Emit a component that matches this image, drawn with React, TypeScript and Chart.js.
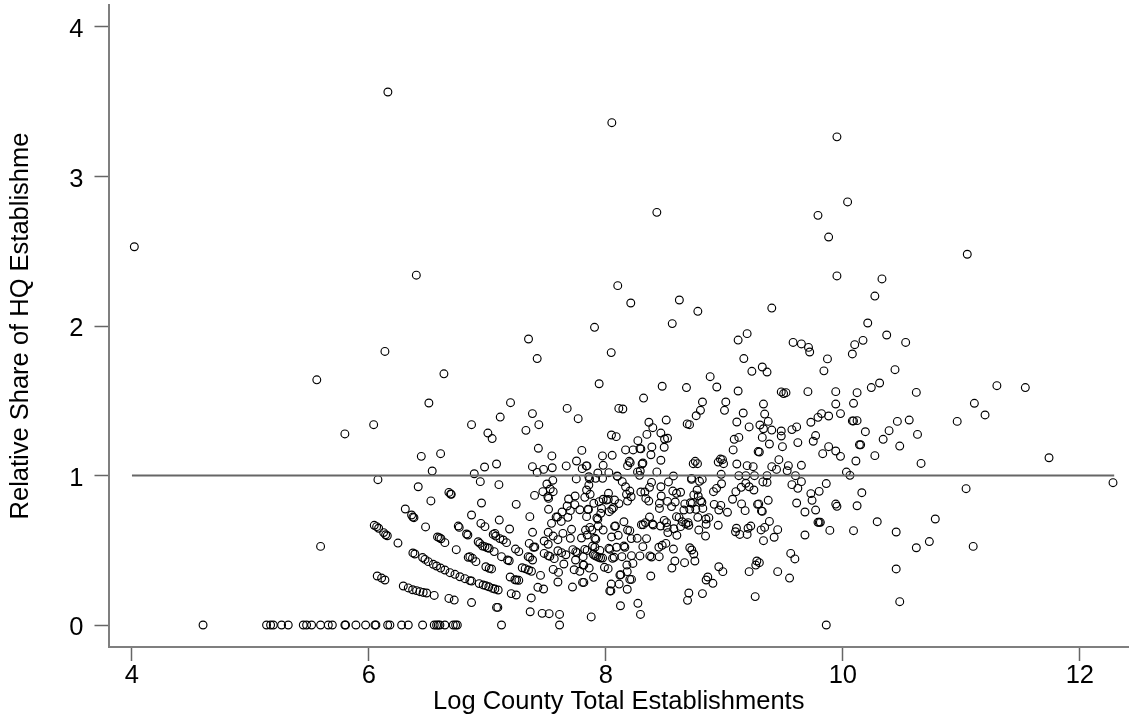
import React, { useEffect, useRef } from "react";
import { Chart, registerables } from "chart.js";

Chart.register(...registerables);

const xTicks = [4, 6, 8, 10, 12];
const yTicks = [0, 1, 2, 3, 4];
const xTitle = "Log County Total Establishments";
const yTitle = "Relative Share of HQ Establishme";
const referenceLine = [[4.0, 1], [12.29, 1]];

const zeroShareLogTotals = [4.6, 5.136, 5.17, 5.193, 5.263, 5.319, 5.446, 5.474, 5.516, 5.592, 5.657, 5.691, 5.797, 5.803, 5.89, 5.972, 6.051, 6.059, 6.158, 6.177, 6.276, 6.332, 6.453, 6.551, 6.571, 6.585, 6.599, 6.641, 6.712, 6.732, 6.746, 7.119, 7.609, 9.86];

const outlierCounties = [
  [4.02, 2.53], [6.16, 3.565], [8.05, 3.36], [9.95, 3.265], [8.43, 2.76], [9.79, 2.74], [10.04, 2.83], [9.88, 2.595], [6.4, 2.34], [9.95, 2.335], [8.1, 2.27], [11.05, 2.48], [10.33, 2.315], [10.27, 2.2], [5.56, 1.64], [5.797, 1.278], [6.04, 1.34], [6.506, 1.485], [6.633, 1.68], [6.135, 1.83],
];

const leftCounties = [
  [6.442, 1.128], [6.605, 1.146], [6.534, 1.03], [6.076, 0.972], [6.416, 0.925], [6.675, 0.887], [6.689, 0.876], [6.695, 0.874], [6.523, 0.83], [6.307, 0.776], [6.36, 0.736], [6.371, 0.722], [6.38, 0.718], [6.478, 0.656], [6.754, 0.662], [6.762, 0.653], [6.824, 0.609], [6.835, 0.602], [6.045, 0.667], [6.065, 0.658], [6.082, 0.647], [6.124, 0.618], [6.141, 0.604], [6.155, 0.597], [6.245, 0.548], [6.579, 0.589], [6.594, 0.584], [6.608, 0.577], [6.641, 0.551], [6.737, 0.504], [6.371, 0.482], [6.388, 0.475], [6.453, 0.451], [6.473, 0.439], [6.501, 0.424], [6.543, 0.406], [6.571, 0.395], [6.605, 0.381], [6.641, 0.368], [6.684, 0.35], [6.726, 0.339], [6.768, 0.323], [6.81, 0.31], [6.852, 0.297], [6.838, 0.453], [6.07, 0.328], [6.107, 0.314], [6.135, 0.301], [6.29, 0.261], [6.332, 0.248], [6.369, 0.236], [6.402, 0.23], [6.43, 0.223], [6.458, 0.218], [6.487, 0.214], [6.551, 0.198], [6.675, 0.178], [6.72, 0.167], [5.592, 0.526],
];

const upperCounties = [
  [8.21, 2.154], [8.62, 2.174], [8.776, 2.098], [8.56, 2.016], [7.904, 1.991], [7.347, 1.913], [9.116, 1.906], [9.192, 1.949], [7.42, 1.782], [8.045, 1.822], [9.164, 1.782], [9.232, 1.697], [8.88, 1.661], [8.936, 1.592], [9.116, 1.565], [8.475, 1.597], [8.68, 1.588], [7.943, 1.614], [8.318, 1.518], [7.195, 1.487], [7.38, 1.414], [7.108, 1.391], [6.866, 1.34], [7.004, 1.284], [7.04, 1.247], [7.325, 1.302], [7.434, 1.34], [7.673, 1.449], [7.766, 1.38], [8.109, 1.449], [8.143, 1.445], [8.815, 1.492], [9.012, 1.492], [8.798, 1.436], [9.001, 1.436], [8.762, 1.4], [8.686, 1.345], [8.706, 1.34], [9.159, 1.418], [9.105, 1.358], [9.209, 1.325], [9.122, 1.255], [9.083, 1.242], [8.509, 1.371], [8.363, 1.356], [8.396, 1.32], [8.346, 1.275], [8.464, 1.284], [8.495, 1.244], [8.52, 1.249], [8.047, 1.271], [8.087, 1.26], [8.27, 1.233], [8.492, 1.189], [8.388, 1.191], [8.166, 1.171], [8.23, 1.171], [8.287, 1.18], [8.295, 1.178], [8.38, 1.139], [7.43, 1.182], [7.544, 1.131], [7.797, 1.168], [7.971, 1.131], [8.053, 1.135], [9.074, 1.171], [9.285, 1.16], [8.464, 1.102], [8.197, 1.095], [8.205, 1.086], [8.183, 1.066], [8.312, 1.084], [8.306, 1.077], [7.977, 1.068], [7.752, 1.097], [7.834, 1.064], [7.84, 1.064], [7.8, 1.046], [7.665, 1.064], [7.547, 1.052], [7.474, 1.041], [7.38, 1.059], [7.42, 1.021], [6.976, 1.057], [7.077, 1.077], [6.889, 1.012], [8.267, 1.024], [8.29, 1.03], [8.284, 1.001], [8.43, 1.024], [7.932, 1.017], [8.025, 1.019], [8.095, 0.997], [8.737, 1.079], [8.754, 1.095], [8.773, 1.079], [8.948, 1.09], [8.967, 1.11], [8.984, 1.106], [8.993, 1.079], [9.105, 1.077], [9.192, 1.066], [9.243, 1.059], [8.973, 1.008], [9.122, 0.999], [9.181, 0.999], [9.254, 0.999], [8.57, 0.997], [8.723, 0.981],
];

const centerCounties = [
  [6.94, 0.959], [7.097, 0.939], [6.95, 0.816], [7.243, 0.807], [7.398, 0.867], [7.468, 0.892], [7.502, 0.943], [7.552, 0.968], [7.53, 0.91], [7.555, 0.892], [7.51, 0.858], [7.516, 0.847], [7.516, 0.774], [7.75, 0.977], [7.856, 0.992], [7.862, 0.977], [7.913, 0.981], [7.972, 0.981], [7.856, 0.936], [7.837, 0.903], [7.867, 0.874], [7.822, 0.854], [7.74, 0.863], [7.685, 0.843], [7.673, 0.796], [7.738, 0.805], [7.78, 0.771], [7.7, 0.765], [7.63, 0.756], [7.679, 0.72], [7.58, 0.722], [7.592, 0.722], [7.541, 0.68], [7.623, 0.693], [7.848, 0.774], [7.853, 0.772], [7.837, 0.725], [7.924, 0.716], [7.932, 0.707], [7.898, 0.814], [7.943, 0.825], [7.977, 0.841], [8.022, 0.881], [8.005, 0.836], [8.02, 0.84], [7.963, 0.78], [7.957, 0.747], [8.028, 0.758], [8.05, 0.774], [8.064, 0.785], [8.073, 0.836], [8.11, 0.812], [8.098, 0.994], [8.138, 0.959], [8.166, 0.925], [8.202, 0.896], [8.174, 0.874], [8.213, 0.858], [8.183, 0.829], [8.295, 0.89], [8.329, 0.89], [8.337, 0.847], [8.362, 0.829], [8.368, 0.921], [8.385, 0.954], [8.464, 0.925], [8.528, 0.957], [8.467, 0.863], [8.452, 0.814], [8.452, 0.78], [8.52, 0.827], [8.554, 0.792], [8.565, 0.896], [8.596, 0.881], [8.63, 0.888], [8.585, 0.823], [8.723, 0.974], [8.79, 0.961], [8.813, 0.974], [8.77, 0.903], [8.742, 0.87], [8.779, 0.863], [8.799, 0.832], [8.81, 0.821], [8.908, 0.892], [8.934, 0.914], [8.976, 0.945], [8.666, 0.81], [8.714, 0.818], [8.728, 0.814], [8.658, 0.769], [8.708, 0.774], [8.759, 0.774], [8.818, 0.78], [8.596, 0.725], [8.618, 0.72], [8.776, 0.72], [8.914, 0.807], [8.97, 0.8], [8.953, 0.769], [9.026, 0.754], [8.869, 0.718], [8.844, 0.709], [8.948, 0.667], [8.846, 0.674], [8.784, 0.635], [8.841, 0.595], [9.069, 0.841], [9.097, 0.892], [9.142, 0.921], [9.181, 0.948], [9.209, 0.925], [9.249, 0.903], [9.145, 0.81], [9.175, 0.765], [9.28, 0.807], [9.313, 0.763], [9.102, 0.647], [9.094, 0.624], [9.13, 0.606], [9.192, 0.606], [9.2, 0.647], [9.223, 0.662], [9.274, 0.428], [9.265, 0.401], [9.209, 0.357], [9.26, 0.19], [8.953, 0.39], [8.987, 0.357], [8.86, 0.321], [8.846, 0.301], [8.903, 0.279], [8.815, 0.21], [8.7, 0.214], [8.689, 0.165], [8.751, 0.428], [8.742, 0.475], [8.725, 0.502], [8.708, 0.517], [8.664, 0.417], [8.582, 0.428], [8.557, 0.381], [8.57, 0.508], [8.506, 0.546], [8.475, 0.533], [8.447, 0.52], [8.45, 0.457], [8.371, 0.462], [8.385, 0.455], [8.379, 0.328], [8.287, 0.462], [8.312, 0.524], [8.343, 0.578], [8.264, 0.58], [8.214, 0.578], [8.202, 0.631], [8.183, 0.635], [8.104, 0.6], [8.048, 0.589], [7.977, 0.635], [7.935, 0.662], [8.073, 0.66], [8.081, 0.662], [8.152, 0.691], [8.3, 0.671], [8.315, 0.671], [8.334, 0.685], [8.368, 0.722], [8.393, 0.676], [8.4, 0.669], [8.461, 0.662], [8.492, 0.7], [8.512, 0.685], [8.517, 0.653], [8.523, 0.618], [8.573, 0.644], [8.599, 0.6], [8.63, 0.658], [8.644, 0.691], [8.675, 0.676], [8.694, 0.685], [8.7, 0.667], [7.865, 0.653], [7.828, 0.635], [7.882, 0.635], [7.842, 0.602], [7.915, 0.573], [7.907, 0.58], [7.794, 0.582], [7.71, 0.64], [7.7, 0.58], [7.637, 0.613], [7.595, 0.571], [7.555, 0.595], [7.513, 0.62], [7.479, 0.562], [7.513, 0.54], [7.381, 0.62], [7.353, 0.546], [7.389, 0.52], [7.4, 0.522], [7.479, 0.479], [7.513, 0.464], [7.527, 0.459], [7.564, 0.444], [7.595, 0.497], [7.626, 0.484], [7.662, 0.47], [7.721, 0.504], [7.746, 0.491], [7.758, 0.484], [7.822, 0.506], [7.842, 0.499], [7.887, 0.528], [7.907, 0.52], [7.949, 0.499], [8.025, 0.513], [8.033, 0.506], [8.09, 0.52], [8.152, 0.528], [8.16, 0.52], [8.056, 0.446], [8.07, 0.453], [8.135, 0.457], [8.216, 0.464], [7.893, 0.473], [7.907, 0.464], [7.921, 0.459], [7.938, 0.453], [7.955, 0.448], [7.972, 0.448], [7.808, 0.457], [7.744, 0.435], [7.645, 0.408], [7.555, 0.372], [7.6, 0.352], [7.732, 0.37], [7.78, 0.359], [7.808, 0.401], [7.814, 0.401], [7.859, 0.381], [7.988, 0.386], [8.019, 0.377], [8.177, 0.401], [8.228, 0.412], [8.18, 0.357], [8.118, 0.334], [8.126, 0.337], [8.202, 0.305], [8.216, 0.305], [8.045, 0.274], [8.112, 0.274], [8.18, 0.239], [8.033, 0.228], [8.042, 0.228], [7.896, 0.319], [7.803, 0.285], [7.814, 0.285], [7.718, 0.254], [7.595, 0.288], [7.426, 0.252], [7.474, 0.241], [7.37, 0.181], [7.361, 0.089], [7.462, 0.078], [7.521, 0.076], [7.609, 0.071], [7.876, 0.054], [8.123, 0.129], [8.27, 0.145], [8.292, 0.071], [7.077, 0.118], [7.088, 0.118], [6.866, 0.15], [7.201, 0.21], [7.243, 0.201], [7.448, 0.332], [7.192, 0.321], [7.232, 0.303], [7.246, 0.301], [7.265, 0.299], [7.294, 0.383], [7.319, 0.377], [7.347, 0.368], [7.372, 0.359], [7.344, 0.457], [7.358, 0.453], [7.381, 0.435], [7.119, 0.457], [7.17, 0.435], [7.184, 0.43], [7.237, 0.508], [7.265, 0.491], [7.057, 0.491], [7.161, 0.551], [7.133, 0.569], [7.105, 0.578], [7.071, 0.595], [7.049, 0.606], [7.063, 0.613], [7.187, 0.642], [7.1, 0.702], [7.358, 0.725], [6.945, 0.68], [6.979, 0.658], [6.866, 0.736], [6.922, 0.557], [6.936, 0.546], [6.959, 0.528], [6.979, 0.524], [7.0, 0.517], [7.015, 0.513], [6.874, 0.446], [6.903, 0.424], [6.852, 0.457], [6.987, 0.39], [7.015, 0.379], [7.035, 0.375], [6.866, 0.294], [6.931, 0.277], [6.964, 0.268], [6.987, 0.263], [7.012, 0.256], [7.043, 0.245], [7.063, 0.241], [7.091, 0.234],
];

const rightCounties = [
  [9.4, 2.12], [10.21, 2.02], [9.58, 1.89], [9.65, 1.88], [9.71, 1.857], [9.72, 1.826], [9.87, 1.78], [10.17, 1.904], [10.1, 1.875], [10.08, 1.813], [10.37, 1.94], [10.53, 1.89], [9.32, 1.726], [9.36, 1.692], [9.84, 1.7], [10.44, 1.708], [10.31, 1.619], [10.24, 1.588], [10.12, 1.554], [9.94, 1.561], [9.705, 1.561], [9.48, 1.559], [9.5, 1.548], [9.52, 1.554], [10.62, 1.556], [11.3, 1.601], [11.54, 1.588], [11.11, 1.483], [11.2, 1.405], [10.965, 1.362], [10.09, 1.483], [9.94, 1.478], [9.33, 1.478], [9.34, 1.411], [9.98, 1.414], [9.88, 1.398], [9.82, 1.414], [9.79, 1.389], [9.73, 1.356], [9.37, 1.362], [9.3, 1.338], [9.33, 1.313], [9.4, 1.304], [9.48, 1.298], [9.48, 1.264], [9.57, 1.307], [9.61, 1.325], [9.32, 1.255], [9.77, 1.267], [9.75, 1.229], [10.08, 1.365], [10.09, 1.365], [10.12, 1.367], [10.46, 1.362], [10.56, 1.371], [10.39, 1.3], [10.19, 1.293], [10.34, 1.242], [10.63, 1.275], [10.48, 1.197], [10.14, 1.206], [10.15, 1.206], [9.38, 1.211], [9.49, 1.193], [9.62, 1.22], [9.88, 1.193], [9.94, 1.164], [9.83, 1.146], [9.98, 1.128], [10.27, 1.133], [10.11, 1.097], [10.66, 1.081], [11.74, 1.119], [9.46, 1.106], [9.65, 1.068], [9.54, 1.066], [9.4, 1.059], [9.44, 1.041], [9.53, 1.032], [10.03, 1.023], [10.06, 1.001], [9.36, 0.999], [9.6, 0.999], [9.295, 1.157], [9.65, 0.959], [9.325, 0.957], [9.36, 0.954], [9.57, 0.939], [9.62, 0.914], [9.86, 0.946], [12.28, 0.952], [11.04, 0.912], [9.8, 0.894], [9.73, 0.879], [10.16, 0.885], [9.74, 0.834], [9.37, 0.834], [9.61, 0.816], [9.94, 0.809], [9.95, 0.794], [10.12, 0.798], [9.68, 0.756], [9.77, 0.769], [9.32, 0.76], [9.29, 0.81], [9.38, 0.693], [9.34, 0.653], [9.31, 0.636], [9.45, 0.638], [9.79, 0.687], [9.81, 0.687], [9.8, 0.687], [9.89, 0.633], [10.09, 0.631], [10.29, 0.691], [10.45, 0.622], [10.78, 0.709], [9.42, 0.587], [9.33, 0.564], [9.68, 0.602], [10.73, 0.558], [10.62, 0.517], [11.1, 0.526], [9.56, 0.479], [9.595, 0.442], [9.295, 0.417], [10.45, 0.375], [9.45, 0.357], [9.55, 0.314], [10.48, 0.156],
];

const AXIS_GRAY = "#7f7f7f";
const FONT = "'Liberation Sans', Arial, sans-serif";

export default function App() {
  const ref = useRef<HTMLCanvasElement>(null);
  useEffect(() => {
    const points = [
      ...outlierCounties,
      ...leftCounties,
      ...upperCounties,
      ...centerCounties,
      ...rightCounties,
      ...zeroShareLogTotals.map((x) => [x, 0]),
    ].map(([x, y]) => ({ x, y }));
    const axisCommon = {
      type: "linear" as const,
      border: { display: true, color: AXIS_GRAY, width: 2 },
      grid: { drawOnChartArea: false, drawTicks: true, tickLength: 14, tickColor: "#666666", tickWidth: 1.5 },
    };
    const noPad = (s: any) => { s.paddingLeft = 0; s.paddingRight = 0; s.paddingTop = 0; s.paddingBottom = 0; };
    const chart = new Chart(ref.current!, {
      type: "scatter",
      data: {
        datasets: [
          {
            type: "line",
            data: referenceLine.map(([x, y]) => ({ x, y })),
            borderColor: "#666666",
            borderWidth: 2,
            pointRadius: 0,
            fill: false,
          },
          {
            data: points,
            pointStyle: "circle",
            pointRadius: 3.9,
            pointBorderWidth: 1.15,
            pointBorderColor: "#000000",
            pointBackgroundColor: "rgba(0,0,0,0)",
            showLine: false,
          },
        ],
      },
      options: {
        responsive: false,
        animation: false,
        layout: { autoPadding: false, padding: { top: 5, right: 0, left: 0, bottom: 0 } },
        plugins: { legend: { display: false }, tooltip: { enabled: false } },
        scales: {
          x: {
            ...axisCommon,
            min: 3.802,
            max: 12.415,
            afterBuildTicks: (s: any) => { s.ticks = xTicks.map((value) => ({ value })); },
            afterFit: (s: any) => { s.height = 70; noPad(s); },
            ticks: { color: "#000", font: { family: FONT, size: 25.5 }, padding: 0, maxRotation: 0 },
            title: { display: true, text: xTitle, color: "#000", font: { family: FONT, size: 25.5 }, padding: { top: 0, bottom: 0 } },
          },
          y: {
            ...axisCommon,
            min: -0.147,
            max: 4.147,
            afterBuildTicks: (s: any) => { s.ticks = yTicks.map((value) => ({ value })); },
            afterFit: (s: any) => { s.width = 108.5; noPad(s); },
            ticks: { color: "#000", font: { family: FONT, size: 25.5 }, padding: 11, labelOffset: 3 },
            title: { display: true, text: yTitle, color: "#000", font: { family: FONT, size: 25.5 }, padding: { top: 6, bottom: 0 } },
          },
        },
      },
    });
    return () => chart.destroy();
  }, []);
  return (
    <div style={{ position: "absolute", left: 0, top: 0, width: 1129, height: 717, background: "#fff" }}>
      <canvas ref={ref} width={1129} height={717} style={{ display: "block" }} />
    </div>
  );
}
